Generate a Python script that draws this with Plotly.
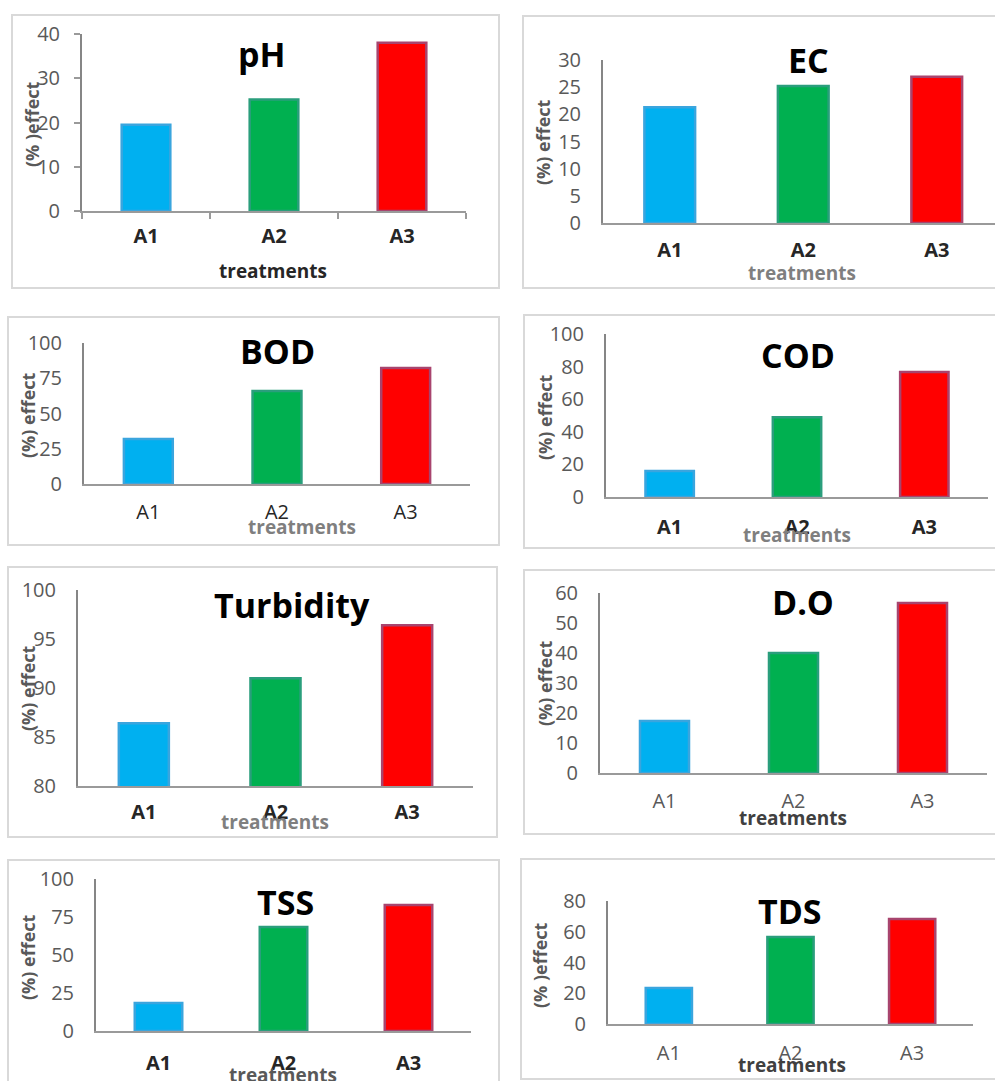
import plotly.graph_objects as go

W, H = 995, 1081

# ---- data -------------------------------------------------------------
treatments = ["A1", "A2", "A3"]

ph = [19.5, 25.2, 38.0]
ec = [21.3, 25.2, 26.9]
bod = [32.0, 66.0, 82.3]
cod = [16.0, 49.0, 76.7]
turbidity = [86.4, 91.0, 96.4]
do = [17.3, 40.0, 56.7]
tss = [18.4, 68.4, 82.9]
tds = [23.4, 56.6, 68.3]

bar_fill = ["#00B0F0", "#00B050", "#FF0000"]
bar_edge = ["#3AA5DE", "#2A9E7C", "#A8446E"]

GRAY = "#595959"
DARK = "#262626"
AXIS = "#9a9a9a"


def px(x):
    return x / W


def py(y):
    return 1 - y / H


# ---- panel layout (pixel boxes) ---------------------------------------
panels = [
    dict(title="pH", vals=ph, yr=[0, 40], dt=10, plot=(82, 466, 34, 211), cat=None,
         frame=(12, 15, 499, 288), tpos=(262, 54), ylab="(% )effect", ylpos=(32, 124),
         xlabpos=(273, 271), xlabcol=DARK, tickbold=True, tickcol=DARK, ticks=True, xso=6),
    dict(title="EC", vals=ec, yr=[0, 30], dt=5, plot=(603, 995, 60, 223), cat=133.5,
         frame=(523, 16, 1010, 288), tpos=(808, 60), ylab="(%) effect", ylpos=(543, 142),
         xlabpos=(802, 273), xlabcol="#7f7f7f", tickbold=True, tickcol=DARK, ticks=False, xso=8),
    dict(title="BOD", vals=bod, yr=[0, 100], dt=25, plot=(84, 470, 343, 484), cat=None,
         frame=(8, 317, 499, 545), tpos=(277, 351), ylab="(%) effect", ylpos=(28, 415),
         xlabpos=(302, 527), xlabcol="#7f7f7f", tickbold=False, tickcol=DARK, ticks=False, xso=9),
    dict(title="COD", vals=cod, yr=[0, 100], dt=20, plot=(606, 988, 334, 497), cat=None,
         frame=(524, 315, 1010, 548), tpos=(798, 355), ylab="(%) effect", ylpos=(545, 417),
         xlabpos=(797, 535), xlabcol="#7f7f7f", tickbold=True, tickcol=DARK, ticks=False, xso=11),
    dict(title="Turbidity", vals=turbidity, yr=[80, 100], dt=5, plot=(78, 473, 590, 786), cat=None,
         frame=(8, 567, 497, 837), tpos=(292, 605), ylab="(%) effect", ylpos=(28, 688),
         xlabpos=(275, 822), xlabcol="#7f7f7f", tickbold=True, tickcol=DARK, ticks=False, xso=7),
    dict(title="D.O", vals=do, yr=[0, 60], dt=10, plot=(600, 987, 593, 773), cat=None,
         frame=(524, 570, 1010, 834), tpos=(803, 602), ylab="(%) effect", ylpos=(545, 683),
         xlabpos=(793, 818), xlabcol="#404040", tickbold=False, tickcol=GRAY, ticks=False, xso=9),
    dict(title="TSS", vals=tss, yr=[0, 100], dt=25, plot=(96, 471, 879, 1031), cat=None,
         frame=(8, 860, 499, 1100), tpos=(285, 902), ylab="(%) effect", ylpos=(28, 957),
         xlabpos=(283, 1075), xlabcol="#595959", tickbold=True, tickcol=DARK, ticks=False, xso=13),
    dict(title="TDS", vals=tds, yr=[0, 80], dt=20, plot=(608, 973, 901, 1024), cat=None,
         frame=(521, 859, 1010, 1079), tpos=(790, 911), ylab="(% )effect", ylpos=(540, 965),
         xlabpos=(792, 1065), xlabcol="#404040", tickbold=False, tickcol=GRAY, ticks=False, xso=10),
]

fig = go.Figure()
shapes, annotations = [], []
layout_axes = {}

for i, p in enumerate(panels, start=1):
    xa, ya = f"x{i}", f"y{i}"
    x0, x1, yt, yb = p["plot"]

    fig.add_trace(go.Bar(
        x=treatments, y=p["vals"], xaxis=xa, yaxis=ya,
        marker=dict(color=bar_fill, line=dict(color=bar_edge, width=2.5)),
        showlegend=False, hoverinfo="x+y",
    ))

    if p["cat"]:
        xrange = [-0.5, -0.5 + (x1 - x0) / p["cat"]]
    else:
        xrange = [-0.5, 2.5]

    layout_axes[f"xaxis{i}"] = dict(
        domain=[px(x0), px(x1)], anchor=ya, range=xrange, type="category",
        automargin=False,
        showline=True, linecolor=AXIS, linewidth=2, showgrid=False, zeroline=False,
        ticks="outside" if p["ticks"] else "", tickson="boundaries",
        ticklen=6, tickcolor=AXIS, tickwidth=2,
        tickfont=dict(family="Open Sans", size=20, color=p["tickcol"],
                      weight="bold" if p["tickbold"] else "normal"),
        ticklabelstandoff=p["xso"],
        fixedrange=True,
    )
    layout_axes[f"yaxis{i}"] = dict(
        domain=[py(yb), py(yt)], anchor=xa, range=p["yr"], dtick=p["dt"],
        tick0=p["yr"][0], automargin=False,
        showline=True, linecolor="#868686", linewidth=2, showgrid=False, zeroline=False,
        ticks="outside" if p["ticks"] else "", ticklen=6, tickcolor=AXIS, tickwidth=2,
        tickfont=dict(family="Open Sans", size=20, color=GRAY),
        ticklabelstandoff=10 if p["ticks"] else 16,
        fixedrange=True,
    )

    fx0, fy0, fx1, fy1 = p["frame"]
    shapes.append(dict(type="rect", xref="paper", yref="paper",
                       x0=px(fx0), x1=px(fx1), y0=py(fy1), y1=py(fy0),
                       line=dict(color="#d9d9d9", width=2), layer="below"))

    annotations.append(dict(
        text=f"<b>{p['title']}</b>", xref="paper", yref="paper",
        x=px(p["tpos"][0]), y=py(p["tpos"][1]), xanchor="center", yanchor="middle",
        showarrow=False, font=dict(family="Open Sans", size=34, color="#000000")))
    annotations.append(dict(
        text=f"<b>{p['ylab']}</b>", xref="paper", yref="paper", textangle=-90,
        x=px(p["ylpos"][0]), y=py(p["ylpos"][1]), xanchor="center", yanchor="middle",
        showarrow=False, font=dict(family="Open Sans", size=18, color=GRAY)))
    annotations.append(dict(
        text="<b>treatments</b>", xref="paper", yref="paper",
        x=px(p["xlabpos"][0]), y=py(p["xlabpos"][1]), xanchor="center", yanchor="middle",
        showarrow=False, font=dict(family="Open Sans", size=19, color=p["xlabcol"])))

fig.update_layout(
    width=W, height=H, margin=dict(l=0, r=0, t=0, b=0, autoexpand=False),
    paper_bgcolor="white", plot_bgcolor="rgba(0,0,0,0)",
    bargap=0.62, shapes=shapes, annotations=annotations,
    **layout_axes,
)

fig.write_html("out.html")
